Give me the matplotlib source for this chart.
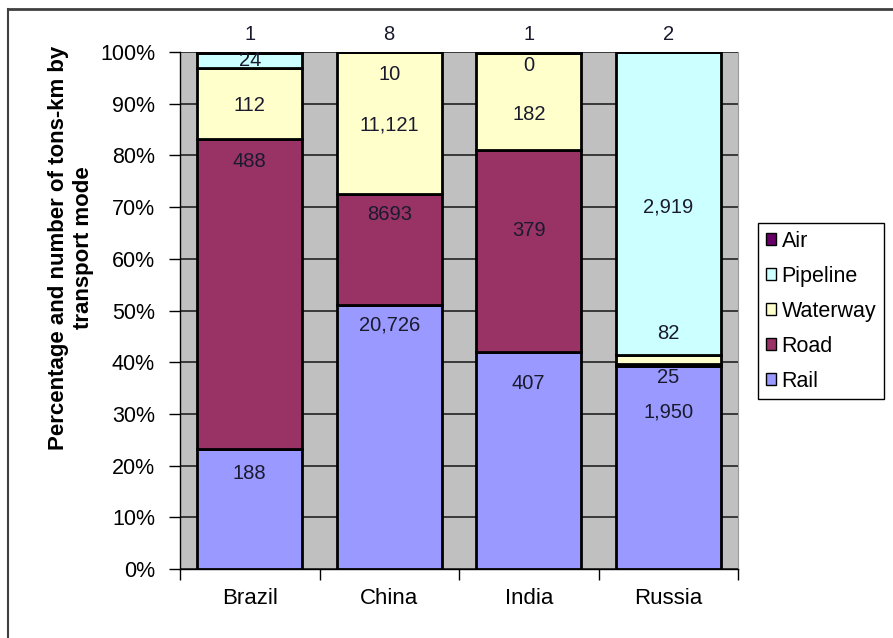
import numpy as np
import matplotlib.pyplot as plt
from matplotlib.lines import Line2D

plt.rcParams['font.family'] = ['Liberation Sans', 'DejaVu Sans']

countries = ["Brazil", "China", "India", "Russia"]
modes = ["Rail", "Road", "Waterway", "Pipeline", "Air"]  # bottom to top

# billion tons-km
rail = [188, 20726, 407, 1950]
road = [488, 8693, 379, 25]
waterway = [112, 11121, 182, 82]
pipeline = [24, 10, 0, 2919]
air = [1, 8, 1, 2]

rail_lbl = ["188", "20,726", "407", "1,950"]
road_lbl = ["488", "8693", "379", "25"]
waterway_lbl = ["112", "11,121", "182", "82"]
pipeline_lbl = ["24", "10", "0", "2,919"]
air_lbl = ["1", "8", "1", "2"]

colors = {"Rail": "#9999FF", "Road": "#993366", "Waterway": "#FFFFCC",
          "Pipeline": "#CCFFFF", "Air": "#660066"}

# where the data labels sit (in % units), one row per mode, as in the original
label_y = {
    "Rail": [18.4, 47.2, 35.8, 30.4],
    "Road": [78.9, 68.5, 65.4, 37.0],
    "Waterway": [89.7, 85.9, 88.0, 45.6],
    "Pipeline": [98.3, 95.7, 97.3, 70.0],
    "Air": [103.3, 103.3, 103.3, 103.3],
}

series = {"Rail": rail, "Road": road, "Waterway": waterway,
          "Pipeline": pipeline, "Air": air}
labels = {"Rail": rail_lbl, "Road": road_lbl, "Waterway": waterway_lbl,
          "Pipeline": pipeline_lbl, "Air": air_lbl}

W, H = 893, 638
fig = plt.figure(figsize=(W / 100, H / 100), dpi=100)
ax = fig.add_axes([180 / W, 1 - 569 / H, 558 / W, 517 / H])
ax.set_facecolor("#C0C0C0")

totals = np.sum([series[m] for m in modes], axis=0)
x = np.arange(len(countries))
bottom = np.zeros(len(countries))
for m in modes:
    pct = np.array(series[m]) / totals * 100
    ax.bar(x, pct, 0.75, bottom=bottom, color=colors[m], edgecolor="black",
           linewidth=2, zorder=3)
    bottom += pct

for m in modes:
    for i in range(len(countries)):
        ax.text(x[i], label_y[m][i], labels[m][i], ha="center", va="center",
                fontsize=14.5, color="#1a1a2e", zorder=5, clip_on=False)

ax.set_xlim(-0.5, 3.5)
ax.set_ylim(0, 100)
ax.set_yticks(np.arange(0, 101, 10))
ax.set_yticklabels([f"{v}%" for v in range(0, 101, 10)], fontsize=15.5)
ax.yaxis.grid(True, color="#222222", linewidth=1.2, zorder=1)
ax.tick_params(axis="y", length=8, width=1, pad=10)

ax.set_xticks(np.arange(-0.5, 4, 1))
ax.set_xticklabels([])
ax.set_xticks(x, minor=True)
ax.set_xticklabels(countries, minor=True, fontsize=16)
ax.tick_params(axis="x", which="major", length=8, width=1)
ax.tick_params(axis="x", which="minor", length=0, pad=14)

ax.spines["top"].set_visible(False)
ax.spines["right"].set_color("#999999")
ax.spines["right"].set_linewidth(0.8)
ax.spines["left"].set_linewidth(1)
ax.spines["bottom"].set_linewidth(1)

fig.text(71 / W, 1 - 248 / H, "Percentage and number of tons-km by\ntransport mode",
         rotation=90, ha="center", va="center", multialignment="center",
         fontsize=16, fontweight="bold")

handles = [plt.Rectangle((0, 0), 1, 1, facecolor=colors[m], edgecolor="black",
                         linewidth=1) for m in modes[::-1]]
fig.legend(handles, modes[::-1], loc="upper left",
           bbox_to_anchor=(758 / W, 1 - 223 / H), fontsize=15.5,
           handlelength=0.5, handleheight=0.5, handletextpad=0.25,
           labelspacing=0.65, borderpad=0.35, borderaxespad=0,
           frameon=True, fancybox=False, edgecolor="black", framealpha=1)

# outer chart border (top and left)
fig.add_artist(Line2D([8 / W, 1], [1 - 9 / H, 1 - 9 / H], color="#404040",
                      linewidth=2, transform=fig.transFigure))
fig.add_artist(Line2D([8 / W, 8 / W], [1 - 9 / H, 0], color="#404040",
                      linewidth=1.5, transform=fig.transFigure))

fig.savefig("out.png", dpi=100)
